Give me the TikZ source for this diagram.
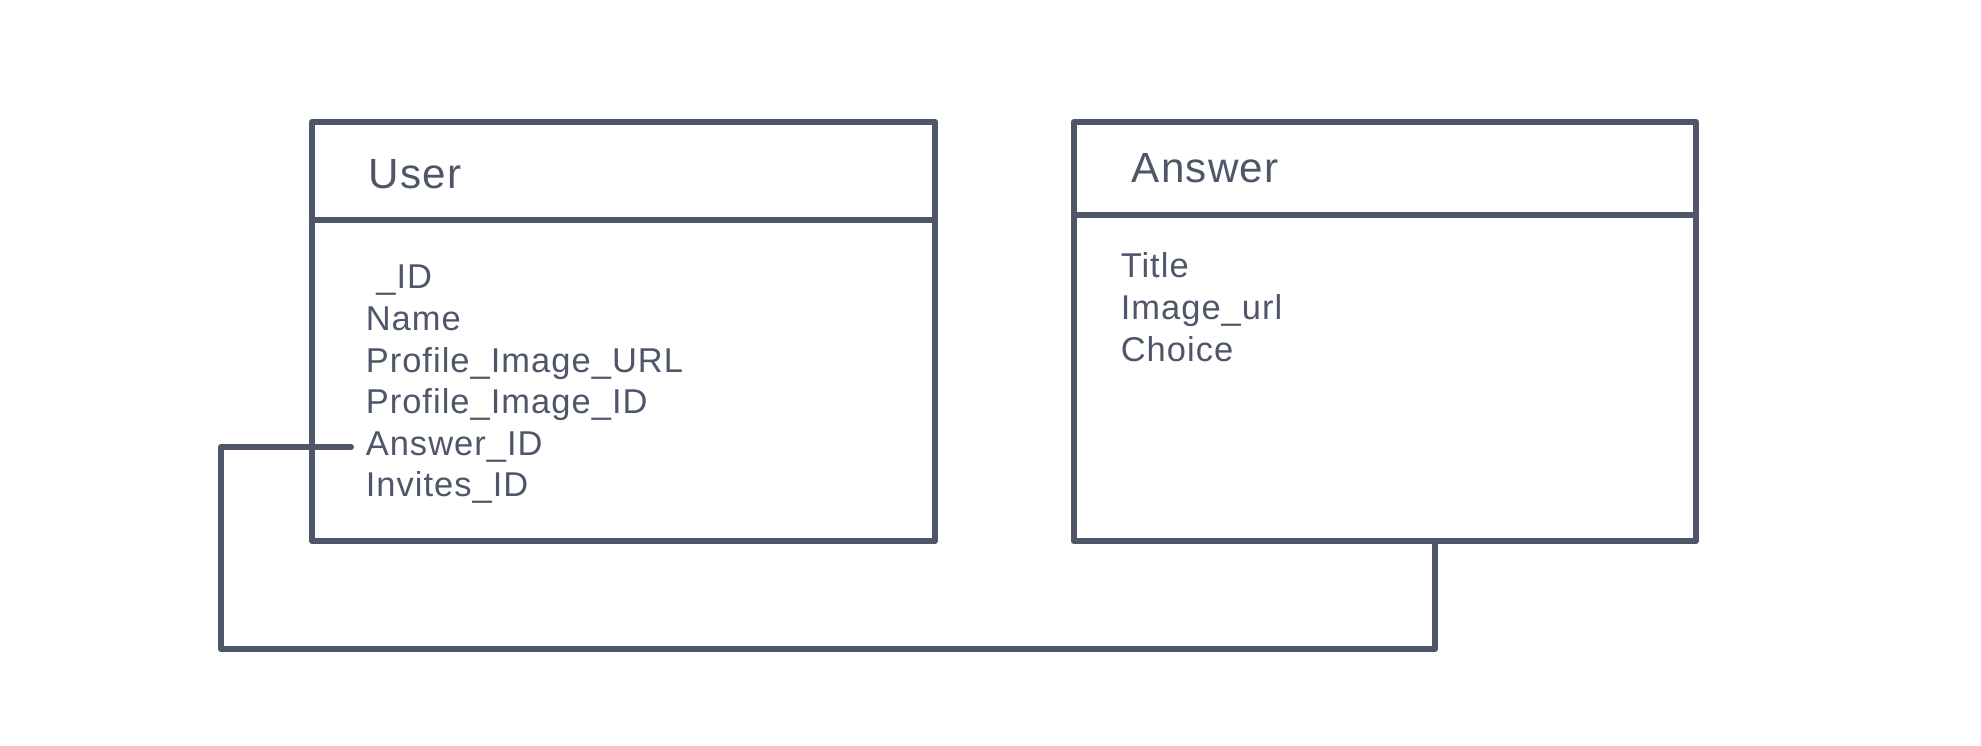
\documentclass[tikz,border=0pt]{standalone}
\usepackage{fontspec}
\setmainfont[LetterSpace=3]{Liberation Sans}
\definecolor{ink}{HTML}{50566A}
\begin{document}
\begin{tikzpicture}[x=0.01cm,y=-0.01cm,
    every node/.style={text=ink},
    entity/.style={draw=ink,line width=1.7pt,line join=round,outer sep=0pt,minimum height=4.19cm,inner sep=0pt},
    heading/.style={anchor=base west,inner sep=0pt,font=\fontsize{12}{14}\selectfont},
    attr/.style={anchor=base west,inner sep=4pt,font=\fontsize{9.8}{12}\selectfont},
    link/.style={draw=ink,line width=1.7pt,line cap=round,line join=round}]
  \useasboundingbox (0,0) rectangle (1981,746);

  \node[entity,minimum width=6.23cm] (user) at (623.5,331.5) {};
  \node[entity,minimum width=6.22cm] (answer) at (1385,331.5) {};

  \node[heading] (usertitle) at (368,189) {User};
  \node[heading] (answertitle) at (1131,183) {Answer};

  \coordinate (usep) at (0,220);
  \coordinate (asep) at (0,215);
  \draw[link] (user.west |- usep) -- (user.east |- usep);
  \draw[link] (answer.west |- asep) -- (answer.east |- asep);

  \node[attr] (u1) at (351,289) {~\_ID};
  \node[attr] (u2) at (351,330.6) {Name};
  \node[attr] (u3) at (351,372.2) {Profile\_Image\_URL};
  \node[attr] (u4) at (351,413.8) {Profile\_Image\_ID};
  \node[attr] (u5) at (351,455.4) {Answer\_ID};
  \node[attr] (u6) at (351,497) {Invites\_ID};

  \node[attr] (a1) at (1106,278) {Title};
  \node[attr] (a2) at (1106,320) {Image\_url};
  \node[attr] (a3) at (1106,362) {Choice};

  \coordinate (bend) at (221,649);
  \coordinate (ajoin) at (1435,541);
  \draw[link] (u5.west) -| (bend) -| (ajoin);
\end{tikzpicture}
\end{document}
